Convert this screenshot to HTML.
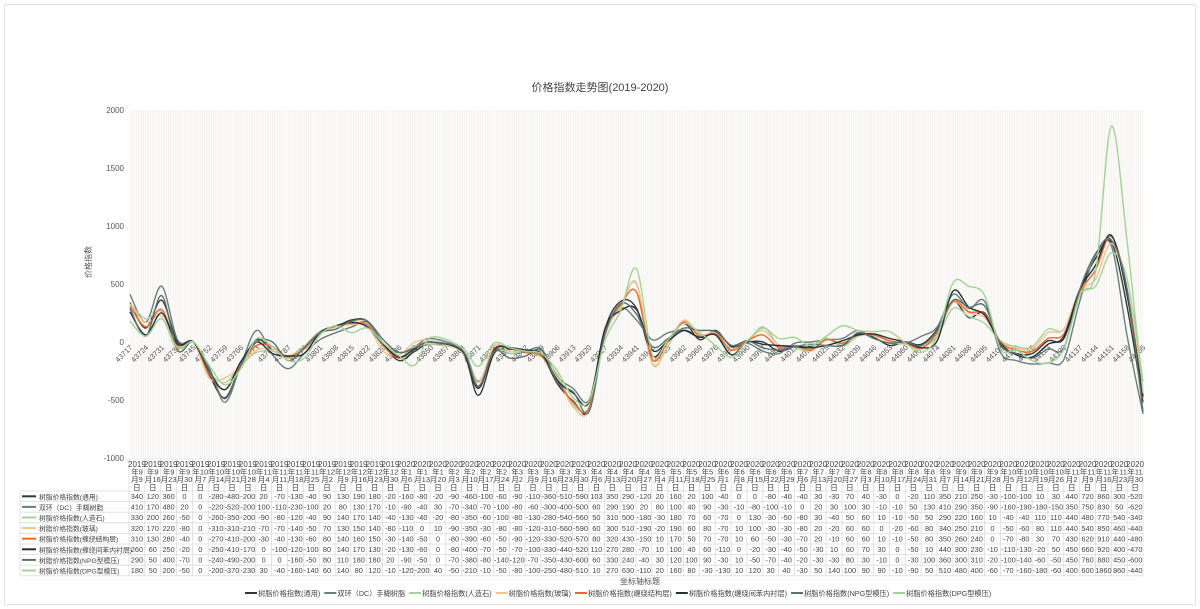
<!DOCTYPE html>
<html><head><meta charset="utf-8">
<style>
html,body{margin:0;padding:0;background:#fff;}
body{width:1200px;height:609px;overflow:hidden;font-family:"Liberation Sans","Noto Sans CJK SC",sans-serif;}
#frame{position:absolute;left:4px;top:4px;width:1190px;height:599px;border:1px solid #e3e3e3;}
svg text{font-family:"Liberation Sans","Noto Sans CJK SC",sans-serif;}
</style></head><body>
<div id="frame"></div>
<svg id="s" width="1200" height="609" style="position:absolute;left:0;top:0">
<text x="600" y="91" font-size="11" fill="#444" text-anchor="middle">价格指数走势图(2019-2020)</text>
<text transform="translate(91,262) rotate(-90)" font-size="8" fill="#555" text-anchor="middle">价格指数</text>
<text x="640" y="584" font-size="8" fill="#555" text-anchor="middle">坐标轴标题</text>
</svg>
<script>
var names=["树脂价格指数(通用)","双环（DC）手糊树脂","树脂价格指数(人造石)","树脂价格指数(玻璃)","树脂价格指数(缠绕结构层)","树脂价格指数(缠绕间苯内衬层)","树脂价格指数(NPG型模压)","树脂价格指数(DPG型模压)"];
var colors=["#2e3a39","#6a7e7f","#a9d09f","#f0c38f","#f0692b","#25303a","#5c716e","#a3d397"];
var D=[
[340,120,360,0,0,-280,-480,-200,20,-70,-130,-40,90,130,190,180,-20,-160,-80,-20,-90,-460,-100,-60,-90,-110,-360,-510,-590,103,350,290,-120,20,160,20,100,-40,0,0,-80,-40,-40,30,-30,70,40,-30,0,-20,110,350,210,250,-30,-100,-100,10,30,440,720,860,300,-520],
[410,170,480,20,0,-220,-520,-200,100,-110,-230,-100,20,80,130,170,-10,-90,-40,30,-70,-340,-70,-100,-80,-60,-300,-400,-500,60,290,190,20,80,100,40,90,-30,-10,-80,-100,-10,0,20,30,100,30,-10,-10,50,130,410,290,350,-90,-160,-190,-180,-150,350,750,830,50,-620],
[330,200,260,-50,0,-260,-350,-200,-90,-80,-120,-40,90,140,170,140,-40,-130,-40,-20,-80,-350,-60,-100,-80,-130,-280,-540,-560,50,310,500,-180,-30,180,70,60,-70,0,130,-30,-50,-80,30,-40,50,60,10,-10,-50,50,290,220,160,10,-40,-40,110,110,440,480,770,540,-340],
[320,170,220,-80,0,-310,-310,-210,-70,-70,-140,-50,70,130,150,140,-80,-110,0,10,-90,-350,-30,-80,-80,-120,-310,-560,-590,60,300,510,-190,-20,190,60,80,-70,10,100,-30,-30,-80,20,-20,60,60,0,-20,-60,80,340,250,210,0,-50,-60,80,110,440,540,850,460,-440],
[310,130,280,-40,0,-270,-410,-200,-30,-40,-130,-60,80,140,160,150,-30,-140,-50,0,-80,-390,-60,-50,-90,-120,-330,-520,-570,80,320,430,-150,10,170,50,70,-70,10,60,-50,-30,-70,20,-10,60,60,10,-10,-50,80,350,260,240,0,-70,-80,30,70,430,620,910,440,-480],
[260,60,250,-20,0,-250,-410,-170,0,-100,-120,-100,80,140,170,130,-20,-130,-60,0,-80,-400,-70,-50,-70,-100,-330,-440,-520,110,270,280,-70,10,100,40,60,-110,0,-20,-30,-40,-50,-30,10,60,70,30,0,-50,10,440,300,230,-10,-110,-130,-20,50,450,660,920,400,-470],
[290,50,400,-70,0,-240,-490,-200,0,0,-160,-50,80,110,180,180,20,-90,-50,0,-70,-380,-80,-140,-120,-70,-350,-430,-600,60,330,240,-40,30,120,100,90,-30,10,-50,-70,-40,-20,-30,-30,80,30,-10,0,-30,100,360,300,310,-20,-100,-140,-60,-50,450,760,880,450,-600],
[180,50,200,-50,0,-200,-370,-230,30,-40,-160,-140,60,140,80,120,-10,-120,-200,40,-50,-210,-10,-50,-80,-100,-250,-480,-510,10,270,630,-110,20,160,80,-30,-130,10,120,30,40,-30,50,140,100,90,90,-10,-90,50,510,480,400,-60,-70,-160,-180,-60,400,600,1860,860,-440]];
var serials=[];for(var s=43717;s<=44165;s+=7){if(s!=43857)serials.push(s);}
var NS="http://www.w3.org/2000/svg",svg=document.getElementById('s');
function el(t,a,txt){var e=document.createElementNS(NS,t);for(var k in a)e.setAttribute(k,a[k]);if(txt!=null)e.textContent=txt;svg.appendChild(e);return e;}
var x0=130,x1=1143,yT=110,yB=458,y0=342,k=0.116;
function X(s){return x0+(s-43717)*(x1-x0)/448;}
function Y(v){return y0-v*k;}
el('rect',{x:x0,y:yT,width:x1-x0,height:yB-yT,fill:'#fcfbf9'});
var p='';for(var d=0;d<=448;d++){var xx=X(43717+d).toFixed(1);p+='M'+xx+' '+yT+'V'+yB;}
el('path',{d:p,stroke:'#efece6','stroke-width':0.45});
[2000,1500,1000,500,0,-500,-1000].forEach(function(v){el('text',{x:124,y:Y(v)+3,'font-size':8,fill:'#555','text-anchor':'end'},String(v));});
for(var s=43717;s<=44165;s+=7){var xx=X(s);el('text',{transform:'translate('+(xx+3)+','+(y0+6)+') rotate(-45)','font-size':7.5,fill:'#555','text-anchor':'end'},String(s));}
for(var i=0;i<8;i++){var pts=serials.map(function(s,j){return [X(s),Y(D[i][j])];});
 var d='M'+pts[0][0]+' '+pts[0][1];
 for(var j=0;j<pts.length-1;j++){var a=pts[j-1]||pts[j],b=pts[j],c=pts[j+1],e=pts[j+2]||c;
  var c1x=b[0]+(c[0]-a[0])/6,c1y=b[1]+(c[1]-a[1])/6,c2x=c[0]-(e[0]-b[0])/6,c2y=c[1]-(e[1]-b[1])/6;
  d+='C'+c1x.toFixed(1)+' '+c1y.toFixed(1)+' '+c2x.toFixed(1)+' '+c2y.toFixed(1)+' '+c[0].toFixed(1)+' '+c[1].toFixed(1);}
 el('path',{d:d,fill:'none',stroke:colors[i],'stroke-width':1.4});}
var tx=129,tw=(1143-129)/64,hy=459,ry=491,rh=10.6,lx=20;
var g='';
for(var j=0;j<=64;j++){var xx=(tx+j*tw).toFixed(1);g+='M'+xx+' '+hy+'V'+(ry+8*rh);}
g+='M'+tx+' '+hy+'H1143';
for(var r=0;r<=8;r++){var yy=(ry+r*rh).toFixed(1);g+='M'+lx+' '+yy+'H1143';}
g+='M'+lx+' '+ry+'V'+(ry+8*rh);
el('path',{d:g,stroke:'#dcdcdc','stroke-width':0.8,fill:'none'});
serials.forEach(function(s,j){var dt=new Date(Date.UTC(1899,11,30)+s*86400000);var cx=tx+j*tw+tw/2;
 var L=[String(dt.getUTCFullYear()),'年'+(dt.getUTCMonth()+1),'月'+dt.getUTCDate(),'日'];
 L.forEach(function(t,q){el('text',{x:cx,y:hy+8+q*7.6,'font-size':(q==0?8:7.5),fill:'#444','text-anchor':'middle'},t);});
 for(var r=0;r<8;r++)el('text',{x:cx,y:ry+rh*r+8,'font-size':7.4,fill:'#444','text-anchor':'middle'},String(D[r][j]));});
for(var r=0;r<8;r++){var yy=ry+rh*r+rh/2;el('path',{d:'M22 '+yy+'H36',stroke:colors[r],'stroke-width':2});
 el('text',{x:39,y:yy+3,'font-size':6.8,fill:'#444'},names[r]);}
var lxp=245,ly=593;
for(var r=0;r<8;r++){el('path',{d:'M'+lxp+' '+ly+'H'+(lxp+12),stroke:colors[r],'stroke-width':2});
 var t=el('text',{x:lxp+13,y:ly+3,'font-size':7.2,fill:'#444'},names[r]);
 lxp+=13+t.getComputedTextLength()+4;}
</script>
</body></html>
